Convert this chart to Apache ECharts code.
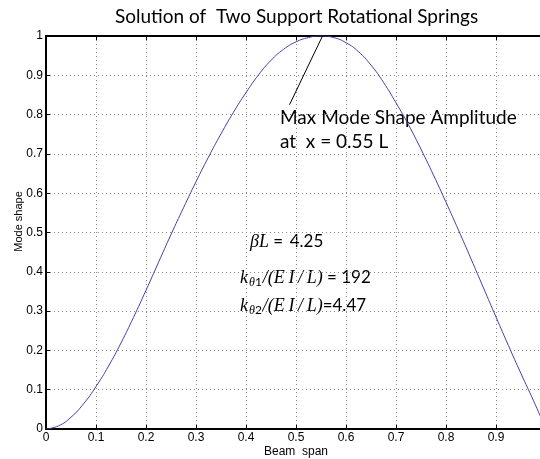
<!DOCTYPE html>
<html>
<head>
<meta charset="utf-8">
<script src="https://cdn.jsdelivr.net/npm/echarts@6/dist/echarts.min.js"></script>
<style>
  html, body { margin: 0; padding: 0; background: #fff; }
  #main { width: 540px; height: 459px; }
</style>
</head>
<body>
<div id="main"></div>
<script>
// beam position (x/L) and mode shape
const beamX = [0, 0.025, 0.05, 0.075, 0.1, 0.125, 0.15, 0.175, 0.2, 0.225,
  0.25, 0.275, 0.3, 0.325, 0.35, 0.375, 0.4, 0.425, 0.45, 0.475,
  0.5, 0.525, 0.55, 0.575, 0.6, 0.625, 0.65, 0.675, 0.7, 0.725,
  0.75, 0.775, 0.8, 0.825, 0.85, 0.875, 0.9, 0.925, 0.95, 0.975, 1.0];
const modeShape = [0, 0.008, 0.03, 0.064, 0.108, 0.16, 0.219, 0.284, 0.353, 0.424,
  0.495, 0.563, 0.629, 0.692, 0.751, 0.806, 0.856, 0.901, 0.938, 0.966,
  0.985, 0.996, 1.0, 0.996, 0.983, 0.96, 0.926, 0.882, 0.83, 0.774,
  0.712, 0.646, 0.577, 0.506, 0.433, 0.359, 0.285, 0.212, 0.141, 0.072, 0];
// line from the peak to the annotation text
const peakPoint = [0.553, 1.0];
const notePoint = [0.487, 0.825];

const titleText = 'Solution of  Two Support Rotational Springs';
const xName = 'Beam  span';
const yName = 'Mode shape';

const chart = echarts.init(document.getElementById('main'), null, { renderer: 'canvas' });

const seriesData = beamX.map((x, i) => [x, modeShape[i]]);
const tickFont = { fontFamily: 'Liberation Sans', fontSize: 12, color: '#000' };
const gridDots = { show: true, lineStyle: { color: '#888', width: 1, type: [1, 3] } };

// math styles for the parameter text (italic serif symbols, sans numbers)
const mathRich = {
  m: { fontFamily: 'Liberation Serif', fontStyle: 'italic', fontSize: 18, lineHeight: 24 },
  s: { fontFamily: 'Liberation Serif', fontStyle: 'italic', fontSize: 12, lineHeight: 24, padding: [9, 0, 0, 1] },
  t: { fontFamily: 'Lato', fontSize: 12, lineHeight: 24, padding: [9, 1, 0, 0] },
  n: { fontFamily: 'Lato', fontSize: 17, lineHeight: 24 }
};
const sp = '\u2009';

const option = {
  animation: false,
  backgroundColor: '#fff',
  title: {
    text: titleText,
    left: 110,
    top: 2,
    textStyle: { fontFamily: 'Lato', fontSize: 19, fontWeight: 'normal', color: '#000' }
  },
  grid: { left: 46, right: -6, top: 36, bottom: 30, containLabel: false, outerBoundsMode: 'none' },
  xAxis: [{
    type: 'value', min: 0, max: 1, interval: 0.1,
    name: xName, nameLocation: 'middle', nameGap: 17, nameMoveOverlap: false,
    nameTextStyle: { fontFamily: 'Liberation Sans', fontSize: 12, color: '#000' },
    axisLine: { lineStyle: { color: '#000', width: 2 } },
    axisTick: { inside: true, length: 4, lineStyle: { color: '#000', width: 1 } },
    axisLabel: Object.assign({ margin: 3, showMaxLabel: false }, tickFont),
    splitLine: gridDots
  }, {
    type: 'value', min: 0, max: 1, interval: 0.1, position: 'top',
    axisLine: { lineStyle: { color: '#000', width: 2 } },
    axisTick: { inside: true, length: 4, lineStyle: { color: '#000', width: 1 } },
    axisLabel: { show: false },
    splitLine: { show: false }
  }],
  yAxis: {
    type: 'value', min: 0, max: 1, interval: 0.1,
    name: yName, nameLocation: 'middle', nameGap: 22, nameMoveOverlap: false,
    nameTextStyle: { fontFamily: 'Liberation Sans', fontSize: 11, color: '#000', padding: [0, 0, 0, 22] },
    axisLine: { show: true, lineStyle: { color: '#000', width: 2 } },
    axisTick: { show: true, inside: true, length: 4, lineStyle: { color: '#000', width: 1 } },
    axisLabel: Object.assign({ margin: 3 }, tickFont),
    splitLine: gridDots
  },
  series: [{
    type: 'line',
    xAxisIndex: 0,
    data: seriesData,
    showSymbol: false,
    smooth: true,
    lineStyle: { color: '#4b3ca8', width: 1 },
    markLine: {
      silent: true,
      symbol: ['none', 'none'],
      label: { show: false },
      lineStyle: { color: '#000', width: 1, type: 'solid' },
      data: [[{ coord: peakPoint }, { coord: notePoint }]]
    }
  }],
  graphic: [{
    type: 'text', x: 280, y: 106,
    style: {
      text: 'Max Mode Shape Amplitude\nat  x = 0.55 L',
      font: '19px Lato', fill: '#000', lineHeight: 24
    }
  }, {
    type: 'text', x: 250, y: 230,
    style: {
      text: '{m|\u03b2L}{n| = \u20094.25}',
      rich: mathRich
    }
  }, {
    type: 'text', x: 240, y: 266,
    style: {
      text: '{m|k}{s|\u03b8}{t|1}{m|/(E' + sp + 'I' + sp + '/' + sp + 'L)}{n| = 192}',
      rich: mathRich
    }
  }, {
    type: 'text', x: 240, y: 294,
    style: {
      text: '{m|k}{s|\u03b8}{t|2}{m|/(E' + sp + 'I' + sp + '/' + sp + 'L)}{n|=4.47}',
      rich: mathRich
    }
  }]
};

chart.setOption(option);
</script>
</body>
</html>
